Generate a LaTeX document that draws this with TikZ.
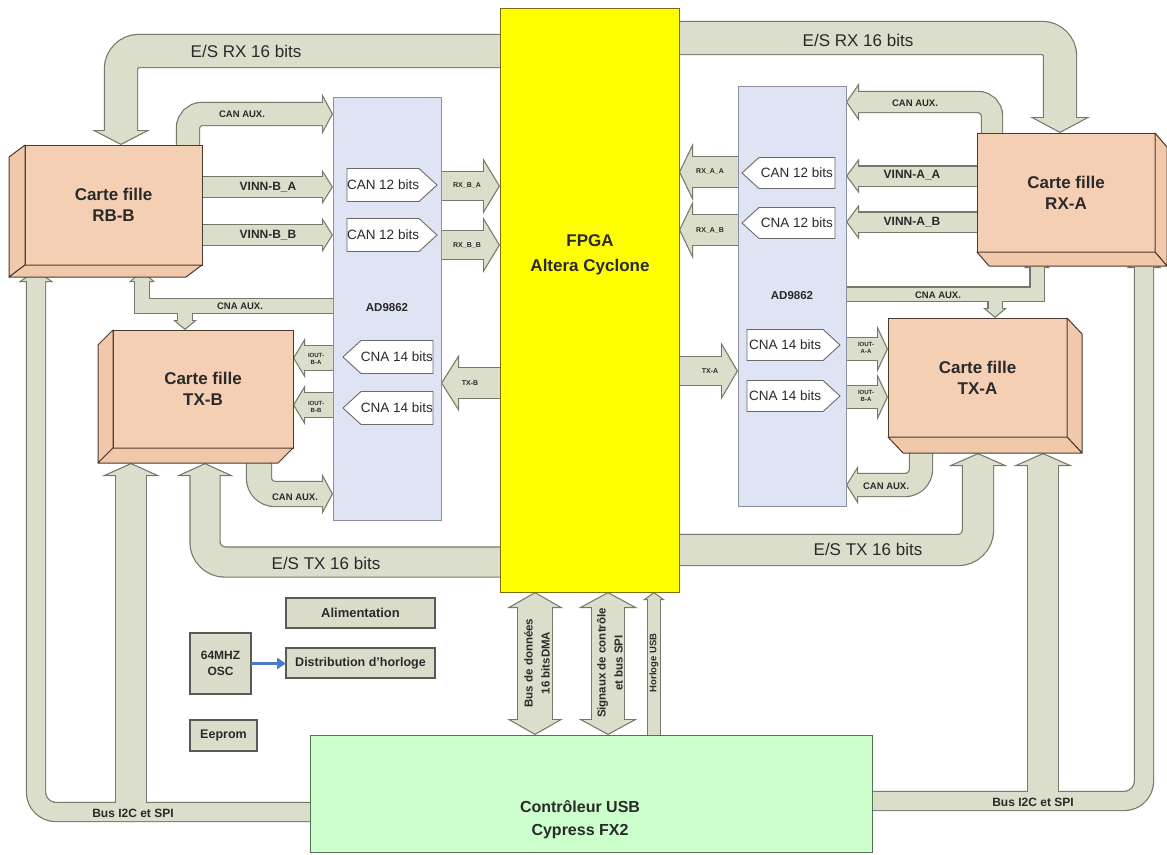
\documentclass[tikz,border=0pt]{standalone}
\usepackage{fontspec}
\setmainfont{Liberation Sans}
\usetikzlibrary{arrows.meta,shapes.symbols}
\pgfdeclarelayer{back}
\pgfdeclarelayer{bg}
\pgfsetlayers{back,bg,main}
\definecolor{busc}{HTML}{DADECB}
\definecolor{bordc}{HTML}{737A69}
\definecolor{cardfill}{HTML}{F5CFB4}
\definecolor{cardsidec}{HTML}{F2C8AA}
\definecolor{cardborder}{HTML}{4A3A30}
\definecolor{adfill}{HTML}{DFE4F4}
\definecolor{adborder}{HTML}{8A90A2}
\definecolor{fpgafill}{HTML}{FFFF00}
\definecolor{fpgaborder}{HTML}{7A6A10}
\definecolor{usbfill}{HTML}{CCFFCC}
\definecolor{usbborder}{HTML}{557055}
\definecolor{smallfill}{HTML}{DCDCCB}
\definecolor{smallborder}{HTML}{5A5A55}
\definecolor{oscblue}{HTML}{4A7CC8}
\definecolor{pentborder}{HTML}{6A6A6A}
\definecolor{txt}{HTML}{2A2A2A}
\def\fbw{1.2}
\newcommand\FAout[6]{%
  \pgfmathsetmacro\faWo{#2+2*\fbw}%
  \draw[bordc, line width=\faWo pt, >={Triangle[length=#3pt, width=#4pt, line width=0pt]}, #5, #1] #6;%
}
\newcommand\FAin[6]{%
  \pgfmathsetmacro\fas{(#4/2)/sqrt((#4/2)^2+(#3)^2)}%
  \pgfmathsetmacro\fash{\fbw/\fas}%
  \pgfmathsetmacro\faLi{#3-\fbw-\fash}%
  \pgfmathsetmacro\faHi{#4*\faLi/#3}%
  \draw[busc, line width=#2pt, >={Triangle[length=\faLi pt, width=\faHi pt, line width=0pt]}, shorten >=\fash pt, shorten <=\fash pt, #5, #1] #6;%
}
\newcommand\buslist[1]{%
 #1{->}{32}{15}{58}{rounded corners=18pt}{(fpga.center |- 0,51) -- (121,51) -- (121,0 |- rbb.north)}%
 #1{->}{32}{16}{60}{rounded corners=18pt}{(fpga.center |- 0,38) -- (1060,38) -- (1060,0 |- rxa.north)}%
 #1{->}{22}{11}{41}{rounded corners=14pt}{(188,0 |- rbb.center) -- (188,114) -- (adl.west |- 0,114)}%
 #1{->}{20}{13}{38}{rounded corners=14pt}{(992,0 |- rxa.center) -- (992,102) -- (adr.east |- 0,102)}%
 #1{->}{20}{11}{35}{}{(rbb.center |- 0,187) -- (adl.west |- 0,187)}%
 #1{->}{20}{11}{35}{}{(rbb.center |- 0,235) -- (adl.west |- 0,235)}%
 #1{->}{19}{13}{35}{}{(rxa.center |- 0,176) -- (adr.east |- 0,176)}%
 #1{->}{19}{13}{35}{}{(rxa.center |- 0,222) -- (adr.east |- 0,222)}%
 #1{->}{28}{17}{56}{}{(adl.center |- 0,186) -- (fpga.west |- 0,186)}%
 #1{->}{28}{17}{56}{}{(adl.center |- 0,245) -- (fpga.west |- 0,245)}%
 #1{->}{30}{14}{58}{}{(adr.center |- 0,172) -- (fpga.east |- 0,172)}%
 #1{->}{30}{14}{58}{}{(adr.center |- 0,230) -- (fpga.east |- 0,230)}%
 #1{->}{30}{18}{57}{}{(fpga.center |- 0,383) -- (adl.east |- 0,383)}%
 #1{->}{28}{17}{58}{}{(fpga.center |- 0,371) -- (adr.west |- 0,371)}%
 #1{->}{24}{12}{40}{}{(adl.center |- 0,358) -- (txb.east |- 0,358)}%
 #1{->}{24}{12}{40}{}{(adl.center |- 0,405) -- (txb.east |- 0,405)}%
 #1{->}{22}{11}{47}{}{(adr.center |- 0,349) -- (txa.west |- 0,349)}%
 #1{->}{22}{11}{47}{}{(adr.center |- 0,397) -- (txa.west |- 0,397)}%
 #1{->}{14}{12}{26}{}{(adl.center |- 0,306) -- (142,306) -- (142,270)}%
 #1{->}{14}{10}{24}{}{(185,306) -- (185,0 |- txb.north)}%
 #1{->}{13}{12}{26}{}{(adr.center |- 0,294) -- (1037,294) -- (1037,256)}%
 #1{->}{13}{10}{24}{}{(995,294) -- (995,0 |- txa.north)}%
 #1{->}{24}{11}{41}{rounded corners=16pt}{(259,0 |- txb.center) -- (259,494) -- (adl.west |- 0,494)}%
 #1{->}{22}{12}{38}{rounded corners=16pt}{(921,0 |- txa.center) -- (921,485) -- (adr.east |- 0,485)}%
 #1{->}{29}{13}{57}{rounded corners=20pt}{(fpga.center |- 0,562) -- (205,562) -- (205,463)}%
 #1{->}{30}{13}{59}{rounded corners=20pt}{(fpga.center |- 0,550) -- (978,550) -- (978,453)}%
 #1{->}{18}{12}{35}{rounded corners=20pt}{(usb.center |- 0,812) -- (36,812) -- (36,270)}%
 #1{->}{30}{13}{58}{}{(131,812) -- (131,463)}%
 #1{->}{18}{12}{35}{rounded corners=20pt}{(usb.center |- 0,801) -- (1144,801) -- (1144,256)}%
 #1{->}{30}{13}{59}{}{(1043,801) -- (1043,453)}%
 #1{<->}{34}{16}{56}{}{(535,0 |- fpga.south) -- (535,0 |- usb.north)}%
 #1{<->}{32}{16}{59}{}{(608,0 |- fpga.south) -- (608,0 |- usb.north)}%
 #1{->}{12}{8}{22}{}{(654,0 |- usb.center) -- (654,0 |- fpga.south)}%
}
\tikzset{
 card/.style={draw=cardborder, fill=cardfill, line width=1pt, outer sep=0pt, inner sep=0pt, anchor=north west, align=center, text=txt, font=\bfseries\fontsize{17}{21}\selectfont},
 bevel/.style={draw=cardborder, fill=cardsidec, line width=1pt, line join=round},
 adbox/.style={draw=adborder, fill=adfill, line width=0.9pt, outer sep=0pt, anchor=north west},
 fpgabox/.style={draw=fpgaborder, fill=fpgafill, line width=1pt, outer sep=0pt, anchor=north west},
 usbbox/.style={draw=usbborder, fill=usbfill, line width=1pt, outer sep=0pt, anchor=north west},
 smallbox/.style={draw=smallborder, fill=smallfill, line width=1.2pt, outer sep=0pt, anchor=north west, align=center, text=txt, font=\bfseries\fontsize{12.5}{15}\selectfont, inner sep=0pt},
 sig/.style={shape=signal, draw=pentborder, fill=white, line width=0.9pt, inner sep=0pt, outer sep=0pt, minimum height=33pt, minimum width=90pt, signal pointer angle=85, text=txt, font=\fontsize{13.5}{16}\selectfont},
 lbig/.style={text=txt, font=\fontsize{17}{20}\selectfont, inner sep=0pt},
 lsm/.style={text=txt, font=\bfseries\fontsize{9.5}{11}\selectfont, inner sep=0pt},
 lvinn/.style={text=txt, font=\bfseries\fontsize{12}{14}\selectfont, inner sep=0pt},
 ltiny/.style={text=txt, font=\bfseries\fontsize{7}{8}\selectfont, inner sep=0pt},
 lmicro/.style={text=txt, font=\bfseries\fontsize{6}{6.5}\selectfont, inner sep=0pt, align=center},
 lbus/.style={text=txt, font=\bfseries\fontsize{12}{14}\selectfont, inner sep=0pt},
 lad/.style={text=txt, font=\bfseries\fontsize{11.5}{14}\selectfont, inner sep=0pt},
 lvert/.style={text=txt, font=\bfseries\fontsize{11.5}{17}\selectfont, inner sep=0pt, align=center, rotate=90},
 ltitle/.style={text=txt, font=\bfseries\fontsize{17}{25}\selectfont, align=center, inner sep=0pt},
}
\begin{document}
\begin{tikzpicture}[x=1pt,y=-1pt]
\useasboundingbox (0,0) rectangle (1167,854);
\begin{pgfonlayer}{back}
\fill[white] (0,0) rectangle (1167,854);
\end{pgfonlayer}
% main blocks
\node[fpgabox, minimum width=179pt, minimum height=584pt] (fpga) at (500,8) {};
\node[ltitle] (fpgat) at (590,255) {FPGA\\Altera Cyclone};
\node[adbox, minimum width=108pt, minimum height=423pt] (adl) at (333,97) {};
\node[adbox, minimum width=108pt, minimum height=420pt] (adr) at (738,86) {};
\node[lad] (adlt) at (387,308) {AD9862};
\node[lad] (adrt) at (792,296) {AD9862};
% daughter cards
\node[card, minimum width=177pt, minimum height=120pt] (rbb) at (25,145) {Carte fille\\RB-B};
\draw[bevel] (rbb.north west) -- ++(-16,12) -- ++(0,120) -- (rbb.south west) -- cycle;
\draw[bevel] (rbb.south west) -- (rbb.south east) -- ++(-16,12) -- ++(-177,0) -- cycle;
\node[card, minimum width=178pt, minimum height=119pt] (rxa) at (977,133) {Carte fille\\RX-A};
\draw[bevel] (rxa.north east) -- ++(12,14) -- ++(0,119) -- (rxa.south east) -- cycle;
\draw[bevel] (rxa.south west) -- (rxa.south east) -- ++(12,14) -- ++(-178,0) -- cycle;
\node[card, minimum width=180pt, minimum height=118pt] (txb) at (113,330) {Carte fille\\TX-B};
\draw[bevel] (txb.north west) -- ++(-15,15) -- ++(0,118) -- (txb.south west) -- cycle;
\draw[bevel] (txb.south west) -- (txb.south east) -- ++(-15,15) -- ++(-180,0) -- cycle;
\node[card, minimum width=179pt, minimum height=119pt] (txa) at (888,318) {Carte fille\\TX-A};
\draw[bevel] (txa.north east) -- ++(15,16) -- ++(0,119) -- (txa.south east) -- cycle;
\draw[bevel] (txa.south west) -- (txa.south east) -- ++(15,16) -- ++(-179,0) -- cycle;
% USB controller
\node[usbbox, minimum width=562pt, minimum height=117pt] (usb) at (310,735) {};
\node[ltitle, font=\bfseries\fontsize{16}{23}\selectfont] (usbt) at (580,820) {Contrôleur USB\\Cypress FX2};
% small boxes
\node[smallbox, minimum width=149pt, minimum height=30pt, font=\bfseries\fontsize{13}{15}\selectfont] (alim) at (286,598) {Alimentation};
\node[smallbox, minimum width=149pt, minimum height=30pt] (dist) at (286,648) {Distribution d'horloge};
\node[smallbox, minimum width=61pt, minimum height=61pt, font=\bfseries\fontsize{12}{16}\selectfont] (osc) at (190,633) {64MHZ\\OSC};
\node[smallbox, minimum width=67pt, minimum height=31pt] (eep) at (190,720) {Eeprom};
\draw[oscblue, line width=2.5pt, -{Triangle[length=9pt,width=11pt]}] (osc.east) -- (dist.west |- osc.east);
% converters
\node[sig, anchor=west] (p1) at (347,185) {CAN 12 bits};
\node[sig, anchor=west] (p2) at (347,235) {CAN 12 bits};
\node[sig, signal to=west, anchor=east] (p3) at (433,357) {CNA 14 bits};
\node[sig, signal to=west, anchor=east] (p4) at (433,408) {CNA 14 bits};
\node[sig, signal to=west, anchor=east, minimum height=31pt, minimum width=93pt] (p5) at (835,173) {CAN 12 bits};
\node[sig, signal to=west, anchor=east, minimum height=31pt, minimum width=93pt] (p6) at (835,223) {CNA 12 bits};
\node[sig, anchor=west, minimum height=31pt, minimum width=93pt] (p7) at (747,345) {CNA 14 bits};
\node[sig, anchor=west, minimum height=31pt, minimum width=93pt] (p8) at (747,396) {CNA 14 bits};
% buses
\begin{pgfonlayer}{bg}
\buslist\FAout
\buslist\FAin
\end{pgfonlayer}
% bus labels
\node[lbig] (l1) at (246,51) {E/S RX 16 bits};
\node[lbig] (l2) at (858,40) {E/S RX 16 bits};
\node[lbig] (l3) at (326,563) {E/S TX 16 bits};
\node[lbig] (l4) at (868,549) {E/S TX 16 bits};
\node[lsm] (l5) at (242,114) {CAN AUX.};
\node[lsm] (l6) at (915,103) {CAN AUX.};
\node[lsm] (l7) at (295,497) {CAN AUX.};
\node[lsm] (l8) at (886,486) {CAN AUX.};
\node[lsm] (l9) at (240,306) {CNA AUX.};
\node[lsm] (l10) at (938,295) {CNA AUX.};
\node[lvinn] (l11) at (268,187) {VINN-B\_A};
\node[lvinn] (l12) at (268,235) {VINN-B\_B};
\node[lvinn] (l13) at (912,175) {VINN-A\_A};
\node[lvinn] (l14) at (912,222) {VINN-A\_B};
\node[ltiny] (l15) at (467,186) {RX\_B\_A};
\node[ltiny] (l16) at (467,246) {RX\_B\_B};
\node[ltiny] (l17) at (710,172) {RX\_A\_A};
\node[ltiny] (l18) at (710,231) {RX\_A\_B};
\node[ltiny] (l19) at (470,383) {TX-B};
\node[ltiny] (l20) at (710,371) {TX-A};
\node[lmicro] (l21) at (316,359) {IOUT-\\B-A};
\node[lmicro] (l22) at (316,407) {IOUT-\\B-B};
\node[lmicro] (l23) at (866,348) {IOUT-\\A-A};
\node[lmicro] (l24) at (866,396) {IOUT-\\B-A};
\node[lbus] (l25) at (133,813) {Bus I2C et SPI};
\node[lbus] (l26) at (1033,802) {Bus I2C et SPI};
\node[lvert] (l27) at (537,663) {Bus de données\\16 bitsDMA};
\node[lvert] (l28) at (610,663) {Signaux de contrôle\\et bus SPI};
\node[lvert, font=\bfseries\fontsize{9.5}{11}\selectfont] (l29) at (654,663) {Horloge USB};
\end{tikzpicture}
\end{document}
